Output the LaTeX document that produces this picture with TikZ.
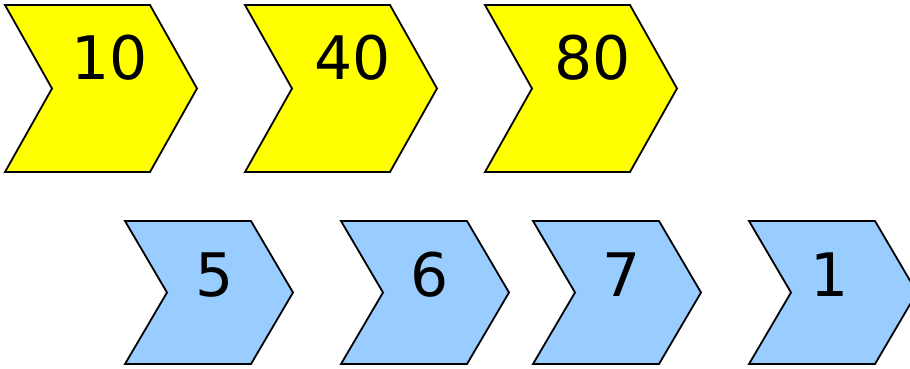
\documentclass[tikz,border=0pt]{standalone}
\usepackage{fontspec}
\setmainfont{DejaVu Sans}
\definecolor{chevyellow}{HTML}{FFFF00}
\definecolor{chevblue}{HTML}{99CCFF}
\newcommand\mychev[6]{%
  \draw[chevshape,fill=#6] (#1,#2) -- ++(#3,0) -- ++(#4,#5/2) -- ++(-#4,#5/2) -- ++(-#3,0) -- ++(#4,-#5/2) -- cycle;}
\begin{document}
\begin{tikzpicture}[x=1pt,y=-1pt,
  chevshape/.style={draw=black,line width=1.8pt,line join=miter},
  numlabel/.style={font=\fontsize{60}{60}\selectfont,inner sep=0pt,anchor=center}]
\clip (0,0) rectangle (910,369);
\fill[white] (0,0) rectangle (910,369);
% yellow row
\mychev{5}{5}{145}{47}{167}{chevyellow}
\mychev{245}{5}{145}{47}{167}{chevyellow}
\mychev{485}{5}{145}{47}{167}{chevyellow}
% blue row
\mychev{125}{221}{126}{42}{143}{chevblue}
\mychev{341}{221}{126}{42}{143}{chevblue}
\mychev{533}{221}{126}{42}{143}{chevblue}
\mychev{749}{221}{126}{42}{143}{chevblue}
% labels
\node[numlabel] (n10) at (110,58) {10};
\node[numlabel] (n40) at (353,58) {40};
\node[numlabel] (n80) at (593,58) {80};
\node[numlabel] (n5) at (215,275) {5};
\node[numlabel] (n6) at (430,275) {6};
\node[numlabel] (n7) at (622,275) {7};
\node[numlabel] (n1) at (830,275) {1};
\end{tikzpicture}
\end{document}
